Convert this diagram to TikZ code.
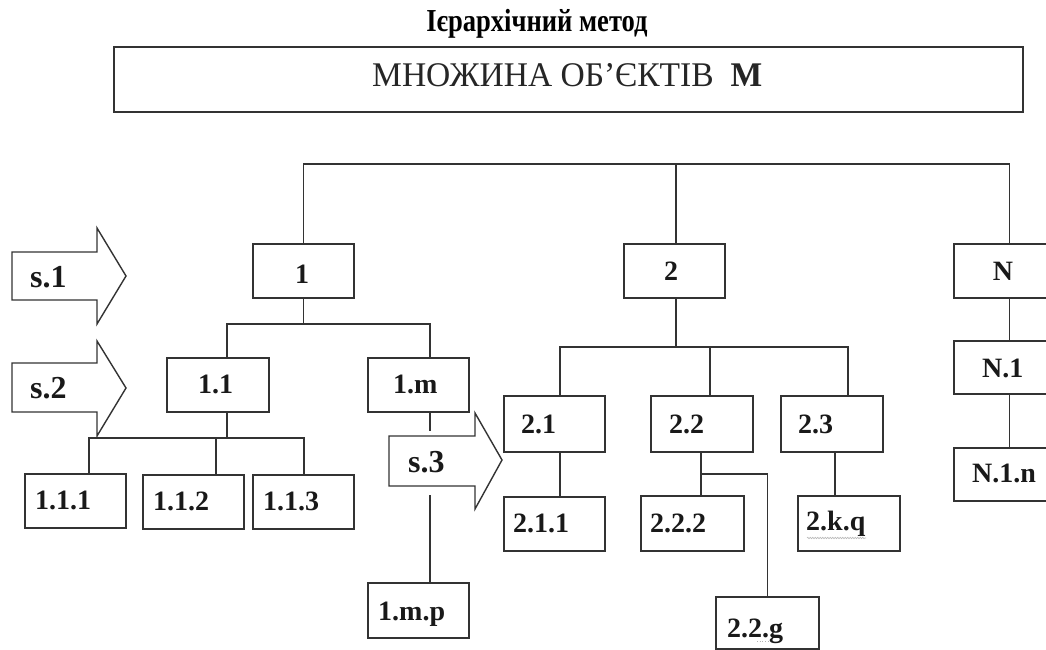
\documentclass[tikz,border=0pt]{standalone}
\usepackage{fontspec}
\setmainfont{Liberation Serif}
\usetikzlibrary{decorations.pathmorphing}
\tikzset{
  ln/.style={line width=1.6pt, draw=black!80},
  boxst/.style={draw=black!80, line width=1.8pt, fill=white, rectangle, inner sep=0pt, anchor=north west},
  lbl/.style={inner sep=0pt, anchor=base west, font=\bfseries\fontsize{28}{28}\selectfont, text=black!90},
  clbl/.style={lbl, anchor=base},
  slbl/.style={lbl, font=\bfseries\fontsize{32}{32}\selectfont},
  sarrow/.style={draw=black!80, line width=1.4pt, fill=white, line join=miter},
}
\newcommand\mybox[5]{\node[boxst, minimum width=#4pt, minimum height=#5pt] (#1) at (#2,#3) {};}
\begin{document}
\begin{tikzpicture}[x=1pt,y=-1pt]
\useasboundingbox (0,0) rectangle (1046,650);
\clip (0,0) rectangle (1046,650);
\fill[white] (0,0) rectangle (1046,650);

% title
\node[inner sep=0pt, anchor=base] (title) at (537,32)
  {\scalebox{0.83}[1]{\bfseries\fontsize{32}{32}\selectfont Ієрархічний метод}};

% top box
\mybox{M}{113}{46}{909}{65}
\node[inner sep=0pt, anchor=base west, text=black!85] (Mtext) at (372,87)
  {\resizebox{390pt}{23pt}{\fontsize{35}{35}\selectfont МНОЖИНА ОБ’ЄКТІВ\ \ \textbf{М}}};

% boxes
\mybox{b1}{252}{243}{101}{54}
\mybox{b2}{623}{243}{101}{54}
\mybox{bN}{953}{243}{101}{54}
\mybox{b11}{166}{357}{102}{54}
\mybox{b1m}{367}{357}{101}{54}
\mybox{b111}{24}{473}{101}{54}
\mybox{b112}{142}{474}{101}{54}
\mybox{b113}{252}{474}{101}{54}
\mybox{b1mp}{367}{582}{101}{55}
\mybox{b21}{503}{395}{101}{56}
\mybox{b22}{650}{395}{102}{56}
\mybox{b23}{780}{395}{102}{56}
\mybox{b211}{503}{496}{101}{54}
\mybox{b222}{640}{495}{103}{55}
\mybox{b2kq}{797}{495}{102}{55}
\mybox{b22g}{715}{596}{103}{52}
\mybox{bN1}{953}{340}{101}{53}
\mybox{bN1n}{953}{447}{101}{53}

% rail levels
\coordinate (r0) at (0,164);
\coordinate (r1) at (0,324);
\coordinate (r11) at (0,438);
\coordinate (r2) at (0,347);
\coordinate (r22) at (0,474);
\coordinate (gapA) at (0,431);
\coordinate (gapB) at (0,495);

% drop points
\coordinate (u1) at (b1.north);
\coordinate (u2) at ([xshift=1.5pt]b2.north);
\coordinate (uN) at ([xshift=5pt]bN.north);
\coordinate (d1) at (b1.south);
\coordinate (u11) at ([xshift=9pt]b11.north);
\coordinate (u1m) at ([xshift=11.5pt]b1m.north);
\coordinate (d11) at ([xshift=9pt]b11.south);
\coordinate (u111) at ([xshift=13.5pt]b111.north);
\coordinate (u112) at ([xshift=22.5pt]b112.north);
\coordinate (u113) at ([xshift=0.5pt]b113.north);
\coordinate (d1m) at ([xshift=11.5pt]b1m.south);
\coordinate (u1mp) at ([xshift=11.5pt]b1mp.north);
\coordinate (d2) at ([xshift=1.5pt]b2.south);
\coordinate (u21) at ([xshift=5.5pt]b21.north);
\coordinate (u22) at ([xshift=8pt]b22.north);
\coordinate (u23) at ([xshift=16pt]b23.north);
\coordinate (d21) at ([xshift=5.5pt]b21.south);
\coordinate (u211) at ([xshift=5.5pt]b211.north);
\coordinate (d22) at ([xshift=-1pt]b22.south);
\coordinate (u222) at ([xshift=8.5pt]b222.north);
\coordinate (d23) at ([xshift=3pt]b23.south);
\coordinate (u2kq) at ([xshift=-14pt]b2kq.north);
\coordinate (dN) at ([xshift=5pt]bN.south);
\coordinate (uN1) at ([xshift=5pt]bN1.north);
\coordinate (dN1) at ([xshift=5pt]bN1.south);
\coordinate (uN1n) at ([xshift=5pt]bN1n.north);

% connectors
\draw[ln] (u1) |- (uN |- r0) -- (uN);
\draw[ln] (u2) -- (u2 |- r0);
\draw[ln] (d1) -- (d1 |- r1);
\draw[ln] (u11) |- (u1m |- r1) -- (u1m);
\draw[ln] (d11) -- (d11 |- r11);
\draw[ln] (u111) |- (u113 |- r11) -- (u113);
\draw[ln] (u112) -- (u112 |- r11);
\draw[ln] (d1m) -- (d1m |- gapA);
\draw[ln] (u1mp) -- (u1mp |- gapB);
\draw[ln] (d2) -- (d2 |- r2);
\draw[ln] (u21) |- (u23 |- r2) -- (u23);
\draw[ln] (u22) -- (u22 |- r2);
\draw[ln] (d21) -- (u211);
\draw[ln] (d22) -- (u222);
\draw[ln] (d22 |- r22) -| (b22g.north);
\draw[ln] (d23) -- (u2kq);
\draw[ln] (dN) -- (uN1);
\draw[ln] (dN1) -- (uN1n);

% step arrows
\draw[sarrow] (12,252) -- (97,252) -- (97,228) -- (126,276) -- (97,324) -- (97,300) -- (12,300) -- cycle;
\draw[sarrow] (12,363) -- (97,363) -- (97,341) -- (126,388) -- (97,436) -- (97,412) -- (12,412) -- cycle;
\draw[sarrow] (389,436) -- (475,436) -- (475,413) -- (502,460) -- (475,509) -- (475,486) -- (389,486) -- cycle;
\node[slbl] (s1) at (30,287) {s.1};
\node[slbl] (s2) at (30,398) {s.2};
\node[slbl] (s3) at (408,472) {s.3};

% labels
\node[clbl] (t1) at (302,283) {1};
\node[clbl] (t2) at (671,280) {2};
\node[clbl] (tN) at (1003,280) {N};
\node[lbl] (t11) at (198,393) {1.1};
\node[lbl] (t1m) at (393,393) {1.m};
\node[lbl] (t111) at (35,509) {1.1.1};
\node[lbl] (t112) at (153,510) {1.1.2};
\node[lbl] (t113) at (263,510) {1.1.3};
\node[lbl] (t1mp) at (378,620) {1.m.p};
\node[lbl] (t21) at (521,433) {2.1};
\node[lbl] (t22) at (669,433) {2.2};
\node[lbl] (t23) at (798,433) {2.3};
\node[lbl] (t211) at (513,532) {2.1.1};
\node[lbl] (t222) at (650,532) {2.2.2};
\node[lbl] (t2kq) at (806,530) {2.k.q};
\node[lbl] (t22g) at (727,637) {2.2.g};
\node[lbl] (tN1) at (982,377) {N.1};
\node[lbl] (tN1n) at (972,482) {N.1.n};

% spell-check marks
\draw[gray!55, line width=0.6pt, decorate, decoration={snake, amplitude=0.7pt, segment length=2.5pt}] (807,538) -- (866,538);
\draw[gray!60, line width=0.7pt, dotted] (757,641) -- (768,641);
\end{tikzpicture}
\end{document}
